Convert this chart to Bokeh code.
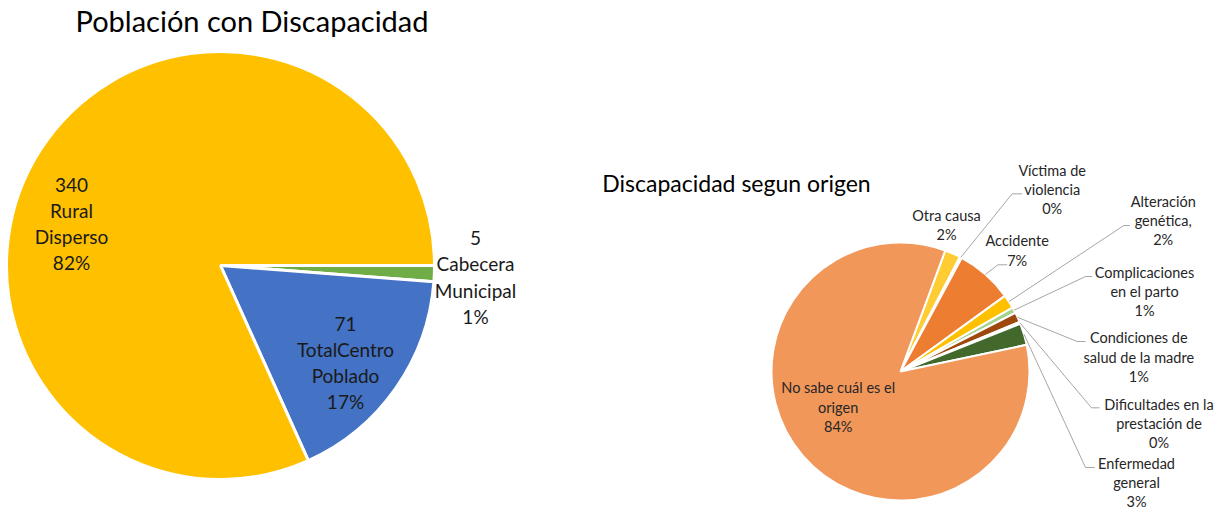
import numpy as np
from bokeh.plotting import figure
from bokeh.models import Range1d
from bokeh.embed import file_html
from bokeh.resources import INLINE
from bokeh.core.properties import value

# ---------------- data ----------------
# Left chart: Población con Discapacidad (clockwise from 3 o'clock)
zona_nombres = ["Cabecera\nMunicipal", "TotalCentro\nPoblado", "Rural\nDisperso"]
zona_valores = [5, 71, 340]
zona_colores = ["#70AD47", "#4472C4", "#FFC000"]

# Right chart: Discapacidad segun origen (clockwise)
origen_nombres = ["Otra causa", "Víctima de\nviolencia", "Accidente", "Alteración\ngenética,",
                  "Complicaciones\nen el parto", "Condiciones de\nsalud de la madre",
                  "Dificultades en la\nprestación de", "Enfermedad\ngeneral",
                  "No sabe cuál es el\norigen"]
origen_valores = [8, 1, 29, 7, 3, 5, 1, 11, 340]
origen_colores = ["#FFCD33", "#70AD47", "#ED7D31", "#FFC000", "#A9D18E",
                  "#9E480E", "#7F7F7F", "#43682B", "#F1975A"]

# ---------------- layout (picture pixel coordinates) ----------------
W, H = 1215, 511


def Y(py):
    return H - py


p = figure(width=W, height=H, output_backend="svg", toolbar_location=None,
           x_range=Range1d(0, W), y_range=Range1d(0, H), min_border=0)
p.axis.visible = False
p.grid.visible = False
p.outline_line_color = None
p.background_fill_color = "white"
p.border_fill_color = "white"

FONT = value("Lato")


def pie_angles(vals, start_deg):
    v = np.array(vals, dtype=float)
    frac = np.cumsum(v) / v.sum()
    c0 = np.concatenate([[0.0], frac[:-1]])
    s = np.deg2rad(start_deg)
    a_begin = s - c0 * 2 * np.pi      # clockwise
    a_end = s - frac * 2 * np.pi
    return a_begin, a_end, v / v.sum()


# ---------- left pie ----------
LCX, LCY, LR = 220, 265, 214
a0, a1, fr = pie_angles(zona_valores, 0.0)
p.wedge(x=[LCX] * 3, y=[Y(LCY)] * 3, radius=LR, radius_units="screen",
        start_angle=list(a1), end_angle=list(a0), direction="anticlock",
        fill_color=zona_colores, line_color="white", line_width=3)

zona_textos = [f"{v}\n{n}\n{round(f * 100):.0f}%" for v, n, f in zip(zona_valores, zona_nombres, fr)]
zona_pos = [(475, 276.5), (345, 362), (71, 223)]
p.text(x=[q[0] for q in zona_pos], y=[Y(q[1]) for q in zona_pos], text=zona_textos,
       text_font=FONT, text_font_size="19px", text_align="center",
       text_baseline="middle", text_line_height=1.14, text_color="#1a1a1a")

p.text(x=[251.5], y=[Y(20)], text=["Población con Discapacidad"], text_font=FONT,
       text_font_size="29px", text_align="center", text_baseline="middle",
       text_color="#000000")

# ---------- right pie ----------
RCX, RCY, RR = 900, 371, 129
b0, b1, gr = pie_angles(origen_valores, 69.7)
n = len(origen_valores)
p.wedge(x=[RCX] * n, y=[Y(RCY)] * n, radius=RR, radius_units="screen",
        start_angle=list(b1), end_angle=list(b0), direction="anticlock",
        fill_color=origen_colores, line_color="white", line_width=2)

origen_textos = [f"{nm}\n{round(f * 100):.0f}%" for nm, f in zip(origen_nombres, gr)]
origen_pos = [(946, 224.3), (1051.7, 189), (1016.7, 250), (1162.7, 220),
              (1144, 291), (1138.3, 356.7), (1158.5, 423.3), (1136, 482),
              (837.7, 406.7)]
p.text(x=[q[0] for q in origen_pos], y=[Y(q[1]) for q in origen_pos], text=origen_textos,
       text_font=FONT, text_font_size="14.5px", text_align="center",
       text_baseline="middle", text_line_height=1.13, text_color="#262626")

# leader lines: slice edge -> elbow -> label
elbows = {1: ((1011.7, 193.3), (1021.7, 193.3)),
          2: ((997.3, 264.3), (1006.7, 264.3)),
          3: ((1123.3, 225), (1129.3, 225)),
          4: ((1085, 276), (1091.7, 276)),
          5: ((1076.7, 341), (1085, 341)),
          6: ((1091, 407.3), (1099, 407.3)),
          7: ((1085, 467), (1094.3, 467))}
xs, ys = [], []
for i, (e1, e2) in elbows.items():
    mid = (b0[i] + b1[i]) / 2
    sx = RCX + RR * np.cos(mid)
    sy = Y(RCY) + RR * np.sin(mid)
    xs.append([sx, e1[0], e2[0]])
    ys.append([sy, Y(e1[1]), Y(e2[1])])
p.multi_line(xs=xs, ys=ys, line_color="#A6A6A6", line_width=1)

p.text(x=[736], y=[Y(182)], text=["Discapacidad segun origen"], text_font=FONT,
       text_font_size="23px", text_align="center", text_baseline="middle",
       text_color="#000000")

open("out.html", "w").write(file_html(p, INLINE))
